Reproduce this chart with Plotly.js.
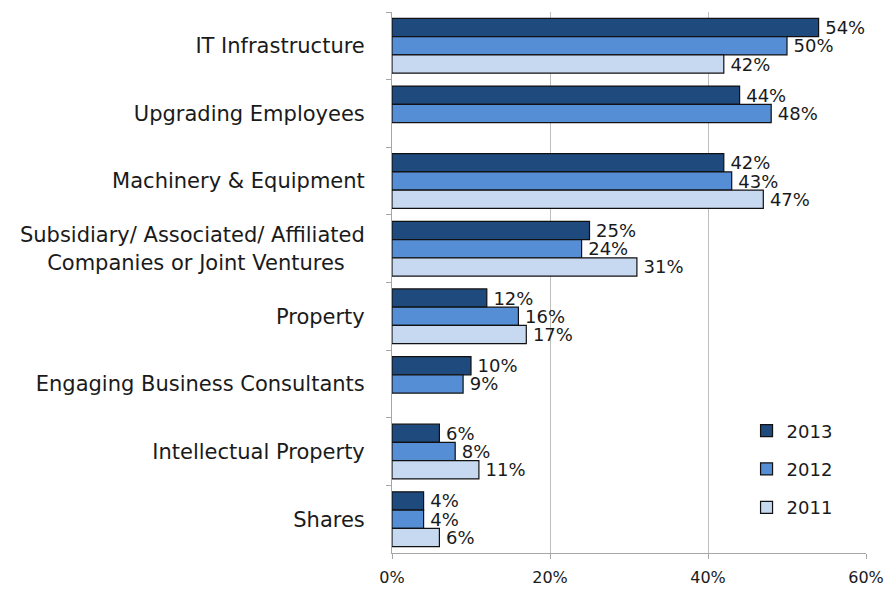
<!DOCTYPE html>
<html><head><meta charset="utf-8">
<script src="https://cdn.plot.ly/plotly-3.0.1.min.js"></script>
<style>html,body{margin:0;padding:0;background:#fff}</style>
</head><body><div id="chart" style="width:889px;height:591px"></div>
<script>
const categories = [
  "IT Infrastructure",
  "Upgrading Employees",
  "Machinery & Equipment",
  "Subsidiary/ Associated/ Affiliated<br>Companies or Joint Ventures\u00a0\u00a0\u00a0",
  "Property",
  "Engaging Business Consultants",
  "Intellectual Property",
  "Shares"
];
const values2013 = [54, 44, 42, 25, 12, 10, 6, 4];
const values2012 = [50, 48, 43, 24, 16, 9, 8, 4];
const values2011 = [42, null, 47, 31, 17, null, 11, 6];
const seriesNames = ["2013", "2012", "2011"];
const colors = ["#1F4A7E", "#558ED5", "#C6D9F1"];
const FONT = "DejaVu Sans, sans-serif";

const all = [values2013, values2012, values2011];
const traces = all.map((vals, i) => ({
  type: "bar",
  orientation: "h",
  name: seriesNames[i],
  legendgroup: "g" + i,
  y: categories,
  x: vals,
  text: vals.map(v => v == null ? "" : "\u2009" + v + "%"),
  textposition: "outside",
  constraintext: "none",
  cliponaxis: false,
  textfont: {family: FONT, size: 18, color: "#1a1a1a"},
  marker: {color: colors[i], line: {color: "#111", width: 1.2}},
  hoverinfo: "x+y"
}));

const layout = {
  width: 889, height: 591,
  margin: {l: 392, r: 23, t: 12, b: 38},
  paper_bgcolor: "#fff", plot_bgcolor: "#fff",
  barmode: "group",
  bargap: 0.19,
  bargroupgap: 0,
  showlegend: true,
  legend: {
    x: 0.748, y: 0.26, xanchor: "left", yanchor: "top",
    font: {family: FONT, size: 18, color: "#1a1a1a"},
    tracegroupgap: 12, traceorder: "grouped",
    bgcolor: "rgba(0,0,0,0)"
  },
  xaxis: {
    range: [0, 60], dtick: 20, ticksuffix: "%",
    showgrid: true, gridcolor: "#BFBFBF", gridwidth: 1,
    showline: true, linecolor: "#A6A6A6", linewidth: 1,
    ticks: "outside", ticklen: 5, tickcolor: "#A6A6A6",
    ticklabelstandoff: 5,
    zeroline: false,
    tickfont: {family: FONT, size: 16, color: "#1a1a1a"},
    fixedrange: true
  },
  yaxis: {
    type: "category", autorange: "reversed",
    showline: true, linecolor: "#A6A6A6", linewidth: 1,
    ticks: "outside", tickson: "boundaries", ticklen: 5, tickcolor: "#A6A6A6",
    ticklabelstandoff: 22,
    tickfont: {family: FONT, size: 21, color: "#1a1a1a"},
    showgrid: false, fixedrange: true
  }
};
Plotly.newPlot("chart", traces, layout, {displayModeBar: false, staticPlot: true});
</script></body></html>
